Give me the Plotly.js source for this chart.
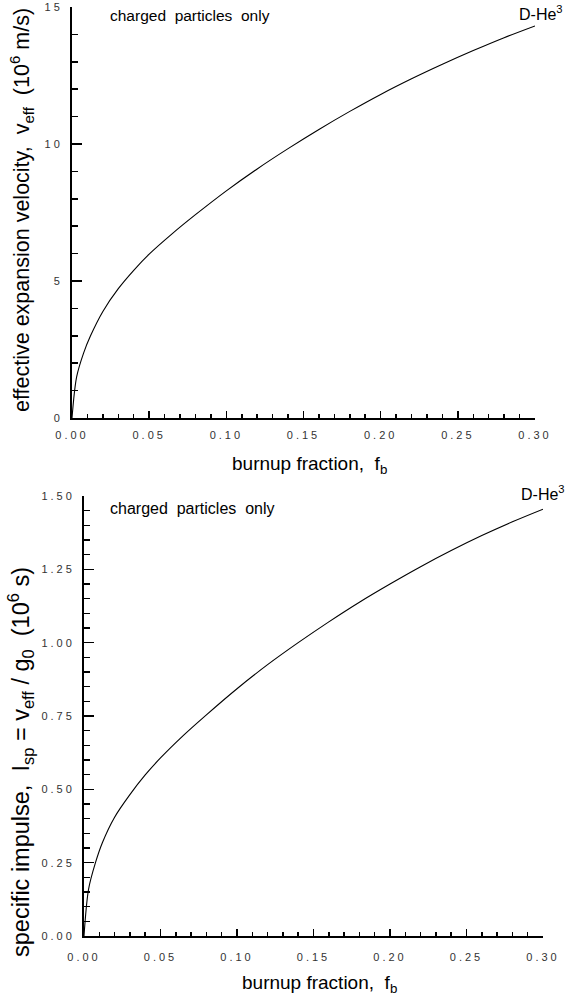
<!DOCTYPE html>
<html>
<head>
<meta charset="utf-8">
<script src="https://cdn.plot.ly/plotly-3.0.1.min.js"></script>
<style>
html,body{margin:0;padding:0;background:#fff;}
#chart{width:572px;height:1001px;}
.xtick text, .ytick text, .x2tick text, .y2tick text {letter-spacing:3px;}
</style>
</head>
<body>
<div id="chart"></div>
<script>
// burnup fraction f_b
const burnup = [0, 0.003, 0.0075, 0.012, 0.02, 0.03, 0.04, 0.05, 0.065, 0.08, 0.10, 0.12, 0.14, 0.16, 0.18, 0.20, 0.22, 0.24, 0.26, 0.28, 0.30];
// effective expansion velocity (10^6 m/s)
const vEff = [0, 1.5, 2.37, 3.0, 3.89, 4.72, 5.39, 5.98, 6.73, 7.42, 8.29, 9.09, 9.83, 10.53, 11.19, 11.81, 12.38, 12.91, 13.41, 13.88, 14.31];
// specific impulse (10^6 s)
const isp = [0, 0.16, 0.25, 0.318, 0.405, 0.482, 0.549, 0.607, 0.684, 0.754, 0.843, 0.925, 1.0, 1.071, 1.138, 1.2, 1.259, 1.314, 1.365, 1.412, 1.455];

const NB = '\u00A0';
const seriesLabel = 'D-He<sup>3</sup>';
const noteText = 'charged' + NB + NB + 'particles' + NB + NB + 'only';
const xTitle = 'burnup fraction,' + NB + NB + 'f<sub>b</sub>';
const yTitleTop = 'effective expansion velocity,' + NB + NB + 'v<sub>eff</sub>' + NB + NB + '(10<sup>6</sup> m/s)';
const yTitleBottom = 'specific impulse,' + NB + NB + 'I<sub>sp</sub>' + NB + '=' + NB + 'v<sub>eff</sub>' + NB + '/' + NB + 'g<sub>0</sub>' + NB + NB + '(10<sup>6</sup> s)';

const W = 572, H = 1001;
const px = x => x / W;
const py = y => 1 - y / H;
const FONT = 'Liberation Sans, Arial, sans-serif';

const tickFont = {family: FONT, size: 11, color: '#333'};

function xAxis(domain, anchor, standoff) {
  return {
    domain: domain, anchor: anchor, range: [0, 0.3], tick0: 0, dtick: 0.05,
    tickformat: '.2f', ticks: 'inside', ticklen: 7, tickwidth: 1.5, tickcolor: '#000',
    showline: true, linewidth: 2, linecolor: '#000', showgrid: false, zeroline: false,
    tickfont: tickFont, fixedrange: true, ticklabelstandoff: standoff,
    minor: {ticks: 'inside', dtick: 0.01, tick0: 0, ticklen: 4, tickwidth: 1.5, tickcolor: '#000', showgrid: false}
  };
}
function yAxis(domain, anchor, range, dtick, mdtick, fmt, standoff) {
  return {
    domain: domain, anchor: anchor, range: range, tick0: 0, dtick: dtick,
    tickformat: fmt, ticks: 'inside', ticklen: 10, tickwidth: 1.5, tickcolor: '#000',
    showline: true, linewidth: 2, linecolor: '#000', showgrid: false, zeroline: false,
    tickfont: tickFont, fixedrange: true, ticklabelstandoff: standoff,
    minor: {ticks: 'inside', dtick: mdtick, tick0: 0, ticklen: 6, tickwidth: 1.5, tickcolor: '#000', showgrid: false}
  };
}

const lineStyle = {color: '#000', width: 1.1, shape: 'spline', smoothing: 0.9};
const traces = [
  {x: burnup, y: vEff, xaxis: 'x', yaxis: 'y', mode: 'lines', line: lineStyle, hoverinfo: 'skip', showlegend: false},
  {x: burnup, y: isp, xaxis: 'x2', yaxis: 'y2', mode: 'lines', line: lineStyle, hoverinfo: 'skip', showlegend: false}
];

const ann = (text, x, y, size, opts) => Object.assign({
  text: text, xref: 'paper', yref: 'paper', x: px(x), y: py(y), showarrow: false,
  font: {family: FONT, size: size, color: '#000'}, xanchor: 'center', yanchor: 'middle'
}, opts || {});

const layout = {
  width: W, height: H,
  margin: {l: 0, r: 0, t: 0, b: 0},
  paper_bgcolor: '#fff', plot_bgcolor: '#fff',
  showlegend: false,
  xaxis: xAxis([px(72), px(535)], 'y', 6),
  yaxis: yAxis([py(418), py(7)], 'x', [0, 15], 5, 1, 'd', 5),
  xaxis2: xAxis([px(84), px(543)], 'y2', 10),
  yaxis2: yAxis([py(936), py(496)], 'x2', [0, 1.5], 0.25, 0.05, '.2f', 5),
  annotations: [
    ann(noteText, 108, 15, 15.5, {xanchor: 'left'}),
    ann(seriesLabel, 565, 13, 16, {xanchor: 'right'}),
    ann(xTitle, 309, 465, 19),
    ann(yTitleTop, 21, 210, 21.5, {textangle: -90}),
    ann(noteText, 108, 508, 16, {xanchor: 'left'}),
    ann(seriesLabel, 567, 493, 16, {xanchor: 'right'}),
    ann(xTitle, 319, 984, 19),
    ann(yTitleBottom, 20, 762, 23.5, {textangle: -90})
  ]
};

Plotly.newPlot('chart', traces, layout, {staticPlot: true, displayModeBar: false});
</script>
</body>
</html>
